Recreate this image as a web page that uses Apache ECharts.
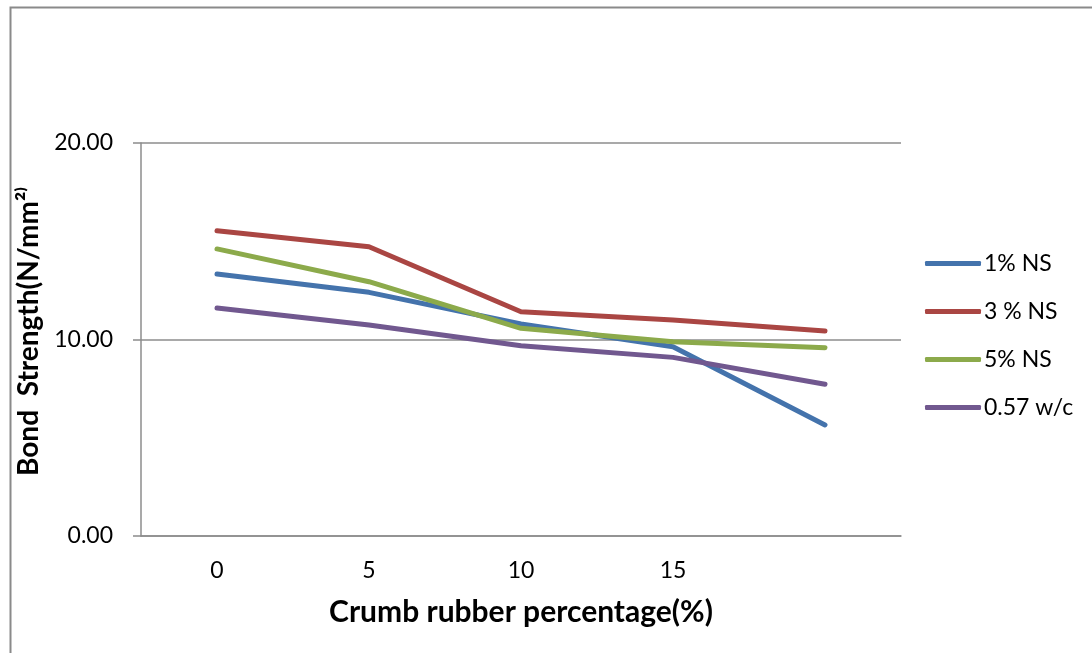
<!DOCTYPE html>
<html>
<head>
<meta charset="utf-8">
<script src="https://cdn.jsdelivr.net/npm/echarts@6/dist/echarts.min.js"></script>
<style>
  html, body { margin: 0; padding: 0; background: #ffffff; }
  #chart { width: 1092px; height: 653px; }
</style>
</head>
<body>
<div id="chart"></div>
<script>
// Crumb rubber content (%) on the category axis; last slot is unlabeled
const categories = ['0', '5', '10', '15', ''];

// Bond strength (N/mm²) for each mix
const ns1 = [13.33, 12.40, 10.79, 9.63, 5.65];
const ns3 = [15.54, 14.72, 11.41, 10.99, 10.43];
const ns5 = [14.61, 12.94, 10.57, 9.89, 9.58];
const wc057 = [11.60, 10.74, 9.68, 9.09, 7.72];

const seriesNames = ['1% NS', '3 % NS', '5% NS', '0.57 w/c'];
const seriesColors = ['#4473AC', '#AA4643', '#8CAA4B', '#71588F'];
const seriesData = [ns1, ns3, ns5, wc057];

const fontFamily = 'Lato, "Noto Sans", sans-serif';
const gridGray = '#8c8c8c';

const chart = echarts.init(document.getElementById('chart'), null, { renderer: 'canvas' });

chart.setOption({
  backgroundColor: '#ffffff',
  animation: false,
  textStyle: { fontFamily: fontFamily, color: '#000' },
  graphic: [{
    type: 'rect',
    left: 8,
    top: 5,
    shape: { x: 0, y: 0, width: 1200, height: 800 },
    style: { fill: 'none', stroke: '#8a8a8a', lineWidth: 2 },
    silent: true,
    z: -1
  }],
  grid: { left: 141, right: 191, top: 143, bottom: 117, containLabel: false },
  legend: {
    orient: 'vertical',
    left: 920,
    top: 247,
    itemWidth: 56,
    itemHeight: 5,
    itemGap: 25,
    icon: 'roundRect',
    textStyle: { fontFamily: fontFamily, fontSize: 23, color: '#000', padding: [0, 0, 0, -2] },
    data: seriesNames
  },
  xAxis: {
    type: 'category',
    data: categories,
    boundaryGap: true,
    axisLine: { show: true, lineStyle: { color: gridGray, width: 1.5 } },
    axisTick: { show: false },
    axisLabel: { fontSize: 23, color: '#000', margin: 23, fontFamily: fontFamily },
    name: 'Crumb rubber percentage(%)',
    nameLocation: 'middle',
    nameGap: 61,
    nameTextStyle: { fontSize: 30, fontWeight: 'bold', color: '#000', fontFamily: fontFamily }
  },
  yAxis: {
    type: 'value',
    min: 0,
    max: 20,
    interval: 10,
    axisLine: { show: true, lineStyle: { color: gridGray, width: 1.5 } },
    axisTick: { show: true, inside: false, length: 8, lineStyle: { color: gridGray, width: 1.5 } },
    splitLine: { show: true, lineStyle: { color: gridGray, width: 1.5 } },
    axisLabel: {
      fontSize: 23, color: '#000', margin: 28, fontFamily: fontFamily,
      formatter: v => v.toFixed(2)
    },
    name: 'Bond  Strength(N/mm²⁾',
    nameLocation: 'middle',
    nameGap: 93,
    nameRotate: 90,
    nameTextStyle: {
      fontSize: 28, fontWeight: 'bold', color: '#000', fontFamily: fontFamily,
      padding: [0, 0, 0, 16]
    }
  },
  series: seriesData.map((d, i) => ({
    name: seriesNames[i],
    type: 'line',
    data: d,
    symbol: 'none',
    showSymbol: false,
    color: seriesColors[i],
    lineStyle: { width: 5, color: seriesColors[i], cap: 'round', join: 'round' },
    itemStyle: { color: seriesColors[i] },
    z: 2 + i
  }))
});
</script>
</body>
</html>
